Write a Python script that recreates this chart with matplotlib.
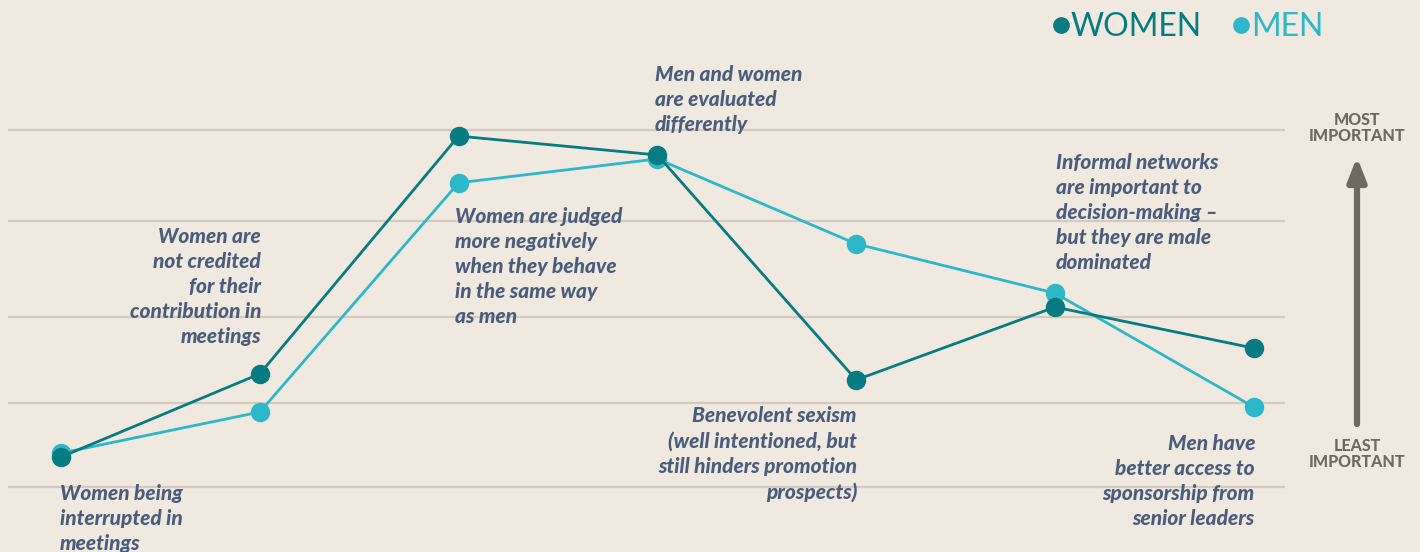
import matplotlib.pyplot as plt
from matplotlib.lines import Line2D

# Ranking of workplace barriers, 0 = least important, 100 = most important
categories = [
    "Women being\ninterrupted in\nmeetings",
    "Women are\nnot credited\nfor their\ncontribution in\nmeetings",
    "Women are judged\nmore negatively\nwhen they behave\nin the same way\nas men",
    "Men and women\nare evaluated\ndifferently",
    "Benevolent sexism\n(well intentioned, but\nstill hinders promotion\nprospects)",
    "Informal networks\nare important to\ndecision-making \u2013\nbut they are male\ndominated",
    "Men have\nbetter access to\nsponsorship from\nsenior leaders",
]
women = [8.4, 31.7, 98.3, 93.0, 30.0, 50.4, 38.9]
men = [9.5, 21.0, 85.2, 91.9, 68.1, 54.3, 22.4]
grid_levels = [0, 23.6, 47.6, 74.6, 100]

BG = "#F0E9E0"
C_WOMEN = "#067C82"
C_MEN = "#2DB8C9"
C_TEXT = "#4B5D7D"
C_GRAY = "#6E6A60"

fig = plt.figure(figsize=(14.2, 5.52), dpi=100)
fig.patch.set_facecolor(BG)
ax = fig.add_axes([0, 0, 1, 1])
ax.set_facecolor(BG)

# pixel -> data helpers (x: category spacing 198.8 px from x=61, y: 3.57 px per point from y=487)
def px(x):
    return (x - 61) / 198.8

def py(y):
    return (487 - y) / 3.57

ax.set_xlim(px(0), px(1420))
ax.set_ylim(py(552), py(0))
ax.axis("off")

ax.hlines(grid_levels, px(8), px(1285), color="#D4CAC0", linewidth=1.6, zorder=1)

xs = list(range(len(categories)))
ax.plot(xs, men, color=C_MEN, linewidth=2.0, marker="o", markersize=13, zorder=3)
ax.plot(xs, women, color=C_WOMEN, linewidth=2.0, marker="o", markersize=13, zorder=4)

# category labels: (x pixel, top-line y pixel, alignment)
label_pos = [
    (60, 484, "left"),
    (261, 227, "right"),
    (455, 207, "left"),
    (655, 65, "left"),
    (857, 406, "right"),
    (1056, 153, "left"),
    (1255, 434, "right"),
]
for text, (lx, ly, ha) in zip(categories, label_pos):
    ax.text(px(lx), py(ly), text, ha=ha, va="top", multialignment=ha,
            color=C_TEXT, fontsize=15, fontweight="black", fontstyle="italic",
            family="Lato", linespacing=1.38, zorder=5)

# importance arrow
ax.annotate("", xy=(px(1357), py(157)), xytext=(px(1357), py(424)),
            arrowprops=dict(arrowstyle="-|>,head_length=1.4,head_width=0.55",
                            color=C_GRAY, lw=4.5, shrinkA=0, shrinkB=0))
ax.text(px(1357), py(128), "MOST\nIMPORTANT", ha="center", va="center",
        color=C_GRAY, fontsize=11.5, fontweight="black", family="Lato", linespacing=1.05)
ax.text(px(1357), py(454), "LEAST\nIMPORTANT", ha="center", va="center",
        color=C_GRAY, fontsize=11.5, fontweight="black", family="Lato", linespacing=1.05)

handles = [Line2D([], [], marker="o", linestyle="none", color=C_WOMEN, markersize=11),
           Line2D([], [], marker="o", linestyle="none", color=C_MEN, markersize=11)]
leg = fig.legend(handles, ["WOMEN", "MEN"], loc="upper right",
                 bbox_to_anchor=(1352 / 1420, 1.03), ncol=2, frameon=False,
                 handlelength=0.5, handletextpad=0.05, columnspacing=1.0,
                 prop=dict(family="Lato", weight="normal", size=23))
for t, c in zip(leg.get_texts(), [C_WOMEN, C_MEN]):
    t.set_color(c)

fig.savefig("out.png", dpi=100, facecolor=BG)
